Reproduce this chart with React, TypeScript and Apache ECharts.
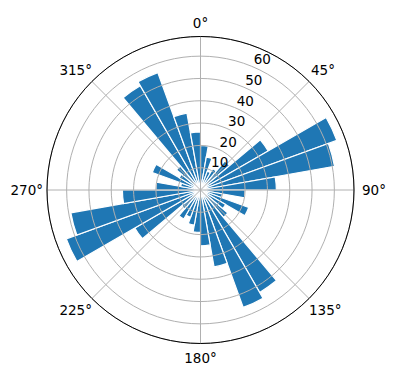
import React, { useEffect, useRef } from 'react';
import * as echarts from 'echarts';

// Direction bins (start of each 10° bin, clockwise from north)
const BIN_START_DEG = [
  '0', '10', '20', '30', '40', '50', '60', '70', '80',
  '90', '100', '110', '120', '130', '140', '150', '160', '170',
  '180', '190', '200', '210', '220', '230', '240', '250', '260',
  '270', '280', '290', '300', '310', '320', '330', '340', '350',
];

// Bar lengths
const BAR_VALUES = [
  20, 15, 9, 11, 17, 35, 65, 61, 34,
  20, 10, 23, 13, 16, 53, 56, 35, 25,
  19, 16, 13, 15, 11, 34, 64, 59, 35,
  20, 9, 23, 11, 14, 54, 56, 35, 26,
];

// Angle tick labels (every 45°)
const ANGLE_TICKS = [0, 45, 90, 135, 180, 225, 270, 315];

const RADIAL_MAX = 68.8;
const RADIAL_STEP = 10;
const ANGLE_STEP = 45;

export default function App() {
  const ref = useRef<HTMLDivElement>(null);
  useEffect(() => {
    document.body.style.margin = '0';
    const chart = echarts.init(ref.current!, null, { renderer: 'svg' });
    const font = 'DejaVu Sans';
    const center: [number, number] = [200.5, 190];
    const radius = 153.5;
    const fontSize = 13.5;
    const base = { fontFamily: font, fontSize, color: '#000', lineHeight: 16 };
    // padding per label so that every label is centred ~20px outside the circle
    const pads: Record<number, number[]> = {
      0: [0, 0, 12, 0],
      45: [0, 0, 6, 2],
      90: [0, 0, 0, 8],
      135: [6, 0, 0, 0],
      180: [12, 0, 0, 0],
      225: [6, 0, 0, 0],
      270: [0, 4, 0, 0],
      315: [0, 0, 6, 0],
    };
    const rich: Record<string, any> = {};
    ANGLE_TICKS.forEach((t) => {
      rich['a' + t] = { ...base, padding: pads[t] };
    });
    chart.setOption({
      animation: false,
      backgroundColor: '#fff',
      polar: [
        { center, radius },
        { center, radius },
        { center, radius },
      ],
      angleAxis: [
        {
          polarIndex: 0, type: 'category', data: BIN_START_DEG, startAngle: 90,
          clockwise: true, boundaryGap: true, show: false,
        },
        {
          polarIndex: 1, type: 'value', min: 0, max: 360, interval: ANGLE_STEP,
          startAngle: 90, clockwise: true, z: 6,
          axisLine: { show: true, lineStyle: { color: '#000', width: 1 } },
          axisTick: { show: false },
          axisLabel: {
            show: true, margin: 0,
            fontFamily: font, fontSize, color: '#000',
            rich,
            formatter: (v: number) => (ANGLE_TICKS.includes(v) ? `{a${v}|${v}°}` : ''),
          },
          splitLine: { show: true, lineStyle: { color: '#b0b0b0', width: 1 } },
        },
        {
          polarIndex: 2, type: 'value', min: 0, max: 360, startAngle: 67.5,
          clockwise: true, show: false,
        },
      ],
      radiusAxis: [
        { polarIndex: 0, type: 'value', min: 0, max: RADIAL_MAX, show: false },
        {
          polarIndex: 1, type: 'value', min: 0, max: RADIAL_MAX, interval: RADIAL_STEP, z: 5,
          axisLine: { show: false }, axisTick: { show: false }, axisLabel: { show: false },
          splitLine: { show: true, lineStyle: { color: '#b0b0b0', width: 1 } },
        },
        {
          polarIndex: 2, type: 'value', min: 0, max: RADIAL_MAX, interval: RADIAL_STEP, z: 7,
          axisLine: { show: false }, axisTick: { show: false }, splitLine: { show: false },
          axisLabel: {
            show: true, margin: 0, align: 'left', verticalAlign: 'bottom',
            padding: [0, 0, 0, 2],
            showMinLabel: false, showMaxLabel: false,
            fontFamily: font, fontSize, color: '#000',
          },
        },
      ],
      series: [
        {
          type: 'bar', coordinateSystem: 'polar', polarIndex: 0,
          data: BAR_VALUES, barCategoryGap: '0%',
          itemStyle: { color: '#1f77b4', borderColor: '#fff', borderWidth: 1.2 },
        },
      ],
    });
    return () => chart.dispose();
  }, []);
  return <div ref={ref} style={{ width: 396, height: 380 }} />;
}
